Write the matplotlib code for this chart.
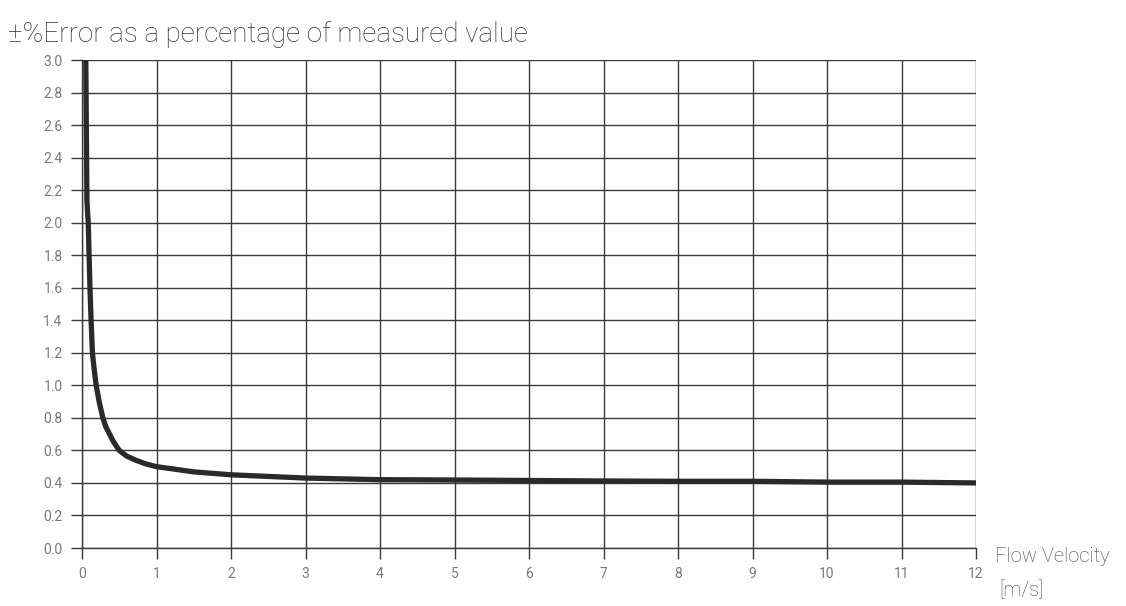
import matplotlib
matplotlib.use("Agg")
import matplotlib.pyplot as plt
from matplotlib import font_manager

# Data
velocity = [0.05, 0.066, 0.075, 0.084, 0.095, 0.107, 0.122, 0.14, 0.163, 0.19, 0.23, 0.28, 0.32, 0.365, 0.42, 0.5, 0.6, 0.72, 0.85, 1.0, 1.16, 1.5, 2.0, 2.5, 3.0, 4.0, 5.0, 6.0, 7.0, 8.0, 9.0, 10.0, 11.0, 12.0]
error_pct = [3.05, 2.14, 2.06, 2.0, 1.8, 1.6, 1.4, 1.2, 1.1, 1.0, 0.9, 0.8, 0.745, 0.705, 0.655, 0.6, 0.565, 0.54, 0.518, 0.50, 0.49, 0.468, 0.45, 0.44, 0.43, 0.42, 0.418, 0.415, 0.412, 0.41, 0.41, 0.405, 0.405, 0.40]
x_ticks = list(range(0, 13))
y_ticks = [round(0.2 * i, 1) for i in range(16)]

names = {f.name for f in font_manager.fontManager.ttflist}
fam = 'Roboto' if 'Roboto' in names else 'DejaVu Sans'
plt.rcParams['font.family'] = [fam, 'DejaVu Sans']

fig = plt.figure(figsize=(11.26, 6.06), dpi=100)
ax = fig.add_axes([82/1126, 1 - 548/606, (976 - 82)/1126, (548 - 60)/606])

ax.plot(velocity, error_pct, color='#2a2a2a', lw=3.8, solid_capstyle='butt',
        solid_joinstyle='round', clip_on=True)

ax.set_xlim(0, 12)
ax.set_ylim(0, 3.0)
ax.set_xticks(x_ticks)
ax.set_yticks(y_ticks)
ax.set_xticklabels([str(t) for t in x_ticks])
ax.set_yticklabels([f"{t:.1f}" for t in y_ticks])
ax.grid(True, color='#3a3a3a', lw=1.0)
ax.set_axisbelow(True)
for s in ['top', 'right']:
    ax.spines[s].set_visible(False)
for s in ['left', 'bottom']:
    ax.spines[s].set_color('#3a3a3a')
    ax.spines[s].set_linewidth(1.0)
ax.tick_params(axis='both', colors='#3a3a3a', labelcolor='#7a7a7a', length=8, width=1.0, labelsize=10, pad=6)

fig.text(8/1126, 1 - 42/606, '±%Error as a percentage of measured value', fontsize=20, color='#333333',
         ha='left', va='baseline', fontweight='light')
fig.text(995/1126, 1 - 557/606, 'Flow Velocity', fontsize=14.5, color='#444444', ha='left', va='center',
         fontweight='light')
fig.text(999/1126, 1 - 590/606, '[m/s]', fontsize=14.5, color='#444444', ha='left', va='center',
         fontweight='light')

fig.savefig('out.png', dpi=100, facecolor='white')
